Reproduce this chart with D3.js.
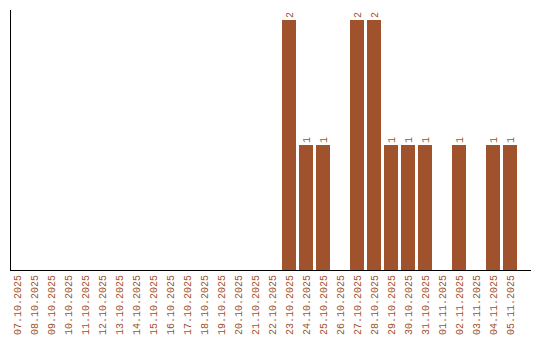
<!DOCTYPE html>
<html>
<head>
<meta charset="utf-8">
<script src="https://cdn.jsdelivr.net/npm/d3@7"></script>
<style>
  body { margin: 0; background: #fff; }
  text { font-family: "Liberation Mono", monospace; font-size: 10px; fill: #a0522d; }
</style>
</head>
<body>
<svg id="chart" width="540" height="340"></svg>
<script>
/**
 * Data.
 */
const dates = ['07.10.2025', '08.10.2025', '09.10.2025', '10.10.2025', '11.10.2025',
    '12.10.2025', '13.10.2025', '14.10.2025', '15.10.2025', '16.10.2025',
    '17.10.2025', '18.10.2025', '19.10.2025', '20.10.2025', '21.10.2025',
    '22.10.2025', '23.10.2025', '24.10.2025', '25.10.2025', '26.10.2025',
    '27.10.2025', '28.10.2025', '29.10.2025', '30.10.2025', '31.10.2025',
    '01.11.2025', '02.11.2025', '03.11.2025', '04.11.2025', '05.11.2025'];
const counts = [0, 0, 0, 0, 0, 0, 0, 0, 0, 0, 0, 0, 0, 0, 0,
    0, 2, 1, 1, 0, 2, 2, 1, 1, 1, 0, 1, 0, 1, 1];
const yMax = 2;

/**
 * Layout.
 */
const plot = { left: 10, right: 531, top: 10, bottom: 270 };

const svg = d3.select('#chart');
const data = dates.map((d, i) => ({ label: d, value: counts[i] }));

const xScale = d3.scaleBand()
    .domain(dates)
    .range([plot.left, plot.left + 507])
    .paddingInner(3 / 17)
    .paddingOuter(0);
const yScale = d3.scaleLinear()
    .domain([0, yMax])
    .range([plot.bottom, plot.top + 10]);

// Bars
svg.append('g').attr('class', 'bars')
    .selectAll('rect')
    .data(data.filter(d => d.value > 0))
    .join('rect')
        .attr('x', d => xScale(d.label))
        .attr('y', d => yScale(d.value))
        .attr('width', xScale.bandwidth())
        .attr('height', d => yScale(0) - yScale(d.value))
        .attr('fill', '#a0522d');

// Value labels
svg.append('g').attr('class', 'values')
    .selectAll('text')
    .data(data.filter(d => d.value > 0))
    .join('text')
        .attr('transform', d => `translate(${xScale(d.label) + xScale.bandwidth() / 2 + 3.5},${yScale(d.value) - 2}) rotate(-90)`)
        .text(d => d.value);

// Axis lines
svg.append('line')
    .attr('x1', plot.left + 0.5).attr('x2', plot.left + 0.5)
    .attr('y1', plot.top).attr('y2', plot.bottom)
    .attr('stroke', '#000');
svg.append('line')
    .attr('x1', plot.left).attr('x2', plot.right)
    .attr('y1', plot.bottom + 0.5).attr('y2', plot.bottom + 0.5)
    .attr('stroke', '#000');

// Category labels
svg.append('g').attr('class', 'x-labels')
    .selectAll('text')
    .data(dates)
    .join('text')
        .attr('transform', d => `translate(${xScale(d) + xScale.bandwidth() / 2 + 3.5},${plot.bottom + 5}) rotate(-90)`)
        .attr('text-anchor', 'end')
        .text(d => d);
</script>
</body>
</html>
